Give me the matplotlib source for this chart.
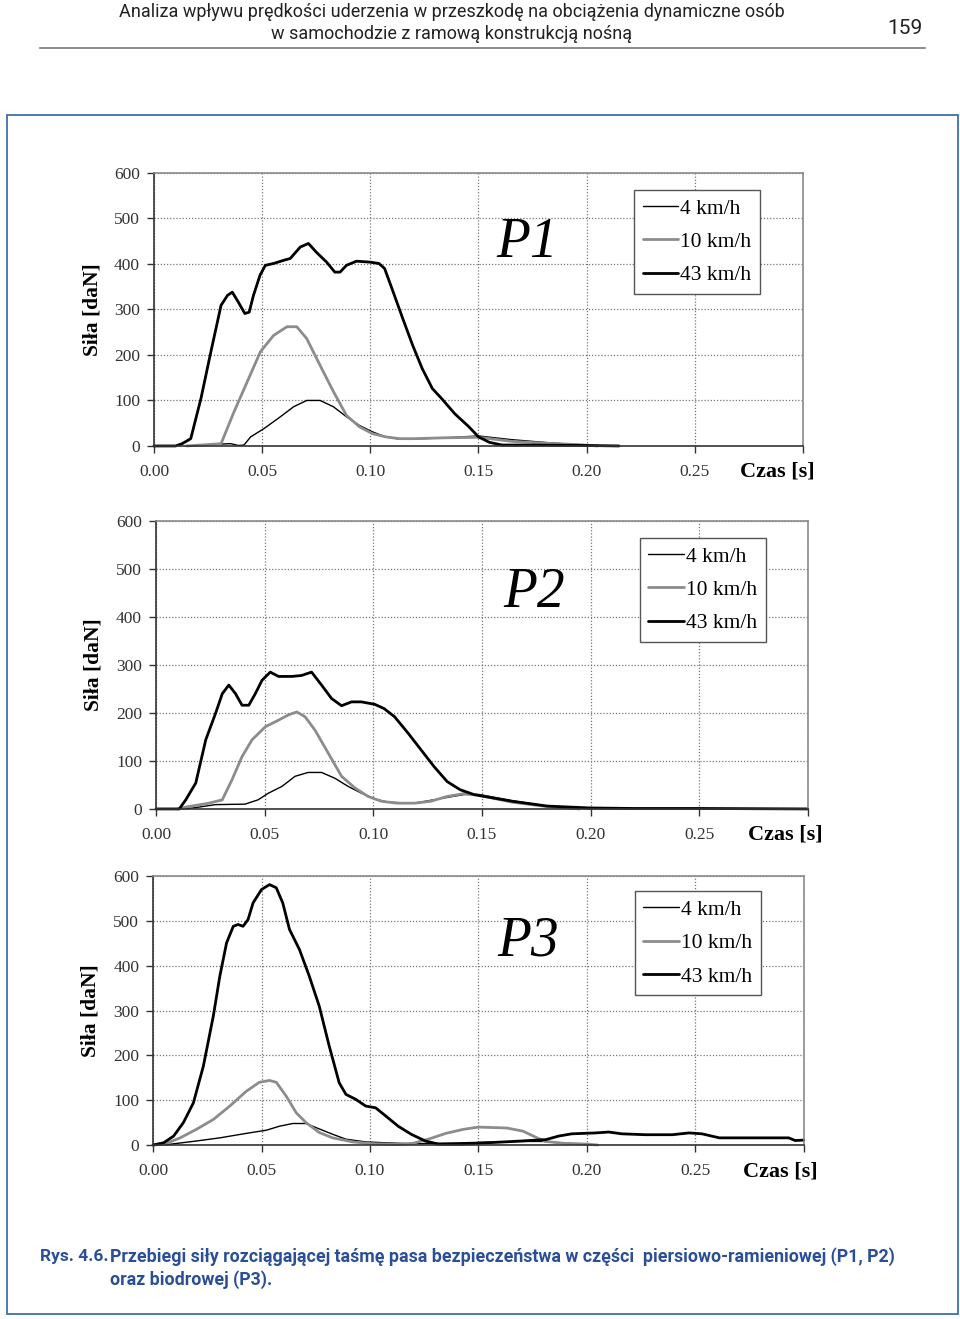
import matplotlib
matplotlib.use("Agg")
import matplotlib.pyplot as plt
from matplotlib.patches import Rectangle
from matplotlib.lines import Line2D

# ---- data (time [s], force [daN]) ----
labels = ["4 km/h", "10 km/h", "43 km/h"]
xticks = [0.00, 0.05, 0.10, 0.15, 0.20, 0.25, 0.30]
xticklabels = ["0.00", "0.05", "0.10", "0.15", "0.20", "0.25", ""]
yticks = [0, 100, 200, 300, 400, 500, 600]

# P1
p1_t4 = [0.017, 0.025, 0.0355, 0.039, 0.0416, 0.0447, 0.0508, 0.0584, 0.0645, 0.0706,
         0.0768, 0.083, 0.089, 0.095, 0.101, 0.107, 0.1135, 0.1196, 0.135, 0.150,
         0.165, 0.18, 0.195, 0.20]
p1_f4 = [0, 3, 5, 1, 2, 20, 38, 64, 86, 100, 100, 86, 64, 45, 31, 20, 15, 15, 18, 22,
         14, 8, 3, 0]
p1_t10 = [0.015, 0.025, 0.031, 0.037, 0.0431, 0.0492, 0.0553, 0.0615, 0.066, 0.0706,
          0.0768, 0.083, 0.089, 0.095, 0.101, 0.107, 0.1135, 0.1196, 0.135, 0.150,
          0.1656, 0.181, 0.196, 0.205]
p1_f10 = [0, 3, 5, 75, 141, 207, 243, 262, 262, 236, 177, 119, 67, 42, 27, 20, 16, 16,
          18, 19, 10, 6, 3, 0]
p1_t43 = [0, 0.010, 0.013, 0.017, 0.0217, 0.0263, 0.031, 0.034, 0.0362, 0.039, 0.042,
          0.044, 0.046, 0.049, 0.0515, 0.0553, 0.060, 0.063, 0.0676, 0.0714, 0.075,
          0.0798, 0.0836, 0.086, 0.089, 0.0936, 0.0997, 0.104, 0.1066, 0.110, 0.115,
          0.1196, 0.124, 0.1287, 0.133, 0.139, 0.1456, 0.150, 0.155, 0.161, 0.17,
          0.20, 0.215]
p1_f43 = [0, 0, 5, 16, 104, 207, 309, 331, 338, 316, 291, 294, 331, 375, 397, 401, 408,
          412, 437, 445, 426, 404, 382, 382, 397, 406, 404, 401, 390, 346, 280, 221,
          170, 126, 104, 71, 42, 20, 8, 2, 2, 1, 0]

# P2
p2_t4 = [0.012, 0.017, 0.0274, 0.041, 0.047, 0.0518, 0.058, 0.064, 0.070, 0.0762,
         0.0823, 0.0884, 0.0945, 0.1006, 0.1067, 0.119, 0.134, 0.1418, 0.149, 0.164,
         0.18, 0.20]
p2_f4 = [0, 2, 9, 10, 19, 33, 47, 68, 76, 76, 64, 47, 33, 21, 14, 12, 24, 30, 30, 17,
         6, 0]
p2_t10 = [0.010, 0.015, 0.0244, 0.0305, 0.035, 0.0396, 0.0442, 0.0503, 0.0564, 0.061,
          0.0648, 0.0686, 0.0732, 0.0793, 0.0854, 0.0915, 0.0976, 0.1037, 0.111, 0.119,
          0.1265, 0.134, 0.1418, 0.149, 0.164, 0.18, 0.195]
p2_f10 = [0, 5, 12, 19, 61, 109, 144, 171, 185, 196, 202, 192, 164, 116, 68, 44, 26, 16,
          12, 12, 16, 26, 32, 28, 14, 5, 0]
p2_t43 = [0, 0.0107, 0.0137, 0.0183, 0.0229, 0.0274, 0.0305, 0.0335, 0.0366, 0.0396,
          0.0427, 0.0457, 0.0488, 0.0526, 0.0564, 0.0625, 0.067, 0.0716, 0.0762, 0.0808,
          0.0854, 0.09, 0.0945, 0.1006, 0.105, 0.1098, 0.116, 0.122, 0.128, 0.134,
          0.140, 0.1463, 0.150, 0.164, 0.18, 0.20, 0.22, 0.25, 0.30]
p2_f43 = [0, 0, 19, 54, 144, 199, 240, 258, 240, 216, 216, 240, 268, 285, 276, 276, 278,
          285, 258, 230, 215, 223, 223, 218, 209, 192, 158, 123, 88, 57, 40, 30, 27, 16,
          6, 2, 1, 1, 0]

# P3
p3_t4 = [0.005, 0.02, 0.0308, 0.043, 0.0522, 0.0583, 0.0644, 0.0705, 0.0766, 0.0828,
         0.0889, 0.098, 0.107, 0.119, 0.1347, 0.150, 0.17, 0.18, 0.19, 0.20, 0.205]
p3_f4 = [0, 9, 16, 26, 33, 42, 48, 48, 36, 24, 13, 7, 5, 3, 4, 6, 8, 8, 4, 1, 0]
p3_t10 = [0, 0.005, 0.0125, 0.02, 0.0278, 0.0354, 0.043, 0.049, 0.0537, 0.0568, 0.0614,
          0.066, 0.0705, 0.0766, 0.0828, 0.092, 0.101, 0.113, 0.12, 0.1275, 0.135,
          0.143, 0.150, 0.163, 0.1705, 0.177, 0.181, 0.189, 0.2, 0.205]
p3_f10 = [0, 1.5, 16, 35, 57, 87, 120, 140, 144, 140, 109, 72, 50, 28, 16, 7, 3, 1.5, 4,
          14, 26, 35, 40, 38, 31, 16, 8, 4, 2, 0]
p3_t43 = [0, 0.0049, 0.0095, 0.014, 0.0186, 0.0232, 0.0278, 0.0308, 0.0339, 0.037,
          0.0392, 0.0415, 0.0438, 0.0461, 0.05, 0.0537, 0.0568, 0.0598, 0.0629, 0.0675,
          0.072, 0.0766, 0.0812, 0.0858, 0.0889, 0.0934, 0.098, 0.1026, 0.1072, 0.113,
          0.119, 0.1255, 0.1316, 0.142, 0.150, 0.166, 0.1735, 0.181, 0.187, 0.193,
          0.204, 0.21, 0.216, 0.227, 0.2394, 0.247, 0.253, 0.261, 0.2735, 0.293, 0.296,
          0.30]
p3_f43 = [0, 5, 20, 50, 94, 176, 288, 377, 451, 488, 492, 488, 503, 540, 570, 581, 574,
          540, 481, 436, 377, 310, 221, 139, 113, 102, 87, 83, 65, 42, 24, 9, 2, 2, 4, 8,
          10, 12, 20, 25, 27, 29, 25, 23, 23, 27, 25, 16, 16, 16, 10, 11]

panels = [
    ("P1", [(p1_t4, p1_f4), (p1_t10, p1_f10), (p1_t43, p1_f43)]),
    ("P2", [(p2_t4, p2_f4), (p2_t10, p2_f10), (p2_t43, p2_f43)]),
    ("P3", [(p3_t4, p3_f4), (p3_t10, p3_f10), (p3_t43, p3_f43)]),
]

# axes placement [left, bottom, width, height] in figure fraction
boxes = [
    [0.1604, 0.6619, 0.676, 0.2070],
    [0.1625, 0.3867, 0.679, 0.2184],
    [0.1594, 0.1319, 0.678, 0.2039],
]
legend_pos = [(0.7396, 0.938), (0.742, 0.941), (0.740, 0.944)]
tag_pos = [(0.575, 0.744), (0.58, 0.75), (0.576, 0.755)]
czas_pos = [(0.961, -0.095), (0.966, -0.087), (0.963, -0.10)]

styles = [
    dict(color="black", lw=1.0),
    dict(color="#8c8c8c", lw=2.0),
    dict(color="black", lw=2.0),
]
serif = "Liberation Serif"

fig = plt.figure(figsize=(9.6, 13.19), dpi=100)

# page header
fig.text(452 / 960, 1 - 12 / 1319,
         "Analiza wpływu prędkości uderzenia w przeszkodę na obciążenia dynamiczne osób",
         ha="center", va="center", fontsize=13, family="Roboto", color="#222222")
fig.text(452 / 960, 1 - 34 / 1319, "w samochodzie z ramową konstrukcją nośną",
         ha="center", va="center", fontsize=13, family="Roboto", color="#222222")
fig.text(905 / 960, 1 - 28 / 1319, "159", ha="center", va="center",
         fontsize=15, family="Roboto", color="#222222")
fig.add_artist(Line2D([40 / 960, 925 / 960], [1 - 48 / 1319, 1 - 48 / 1319],
                      color="#777777", lw=1.2))

# blue frame around the figure
fig.add_artist(Rectangle((7 / 960, 1 - 1314 / 1319), 951 / 960, 1199 / 1319,
                         fill=False, edgecolor="#3f6fa8", lw=1.3))

for (tag, series), box, lp, tp, cp in zip(panels, boxes, legend_pos, tag_pos, czas_pos):
    ax = fig.add_axes(box)
    for (t, f), st, lab in zip(series, styles, labels):
        ax.plot(t, f, label=lab, solid_joinstyle="round", solid_capstyle="round",
                clip_on=False, **st)
    ax.set_xlim(0, 0.30)
    ax.set_ylim(0, 600)
    ax.set_xticks(xticks)
    ax.set_xticklabels(xticklabels)
    ax.set_yticks(yticks)
    ax.set_axisbelow(True)
    ax.grid(True, linestyle=(0, (1, 1.5)), color="#777777", lw=0.9)
    for side in ["top", "right"]:
        ax.spines[side].set_color("#8a8a8a")
        ax.spines[side].set_linewidth(1.2)
    for side in ["left", "bottom"]:
        ax.spines[side].set_color("#333333")
        ax.spines[side].set_linewidth(1.2)
    ax.tick_params(axis="both", direction="out", length=5, width=1, color="#333333",
                   labelsize=12.5, labelcolor="#333333")
    ax.tick_params(axis="x", pad=8)
    ax.tick_params(axis="y", pad=5)
    for lab in ax.get_xticklabels() + ax.get_yticklabels():
        lab.set_family(serif)

    ax.text(-0.0955, 0.5, "Siła [daN]", transform=ax.transAxes, rotation=90,
            ha="center", va="center", fontsize=15.5, fontweight="bold", family=serif)
    ax.text(cp[0], cp[1], "Czas [s]", transform=ax.transAxes, ha="center", va="center",
            fontsize=16, fontweight="bold", family=serif)
    ax.text(tp[0], tp[1], tag, transform=ax.transAxes, ha="center", va="center",
            fontsize=40, fontstyle="italic", family=serif)

    leg = ax.legend(loc="upper left", bbox_to_anchor=lp, frameon=True, fancybox=False,
                    framealpha=1, edgecolor="#555555", borderpad=0.4,
                    handlelength=1.65, handletextpad=0.1, labelspacing=0.62,
                    prop={"family": serif, "size": 15.5}, borderaxespad=0)
    leg.get_frame().set_linewidth(1.0)

# caption
cap_color = "#2a4f96"
cap_font = "Roboto"
fig.text(40 / 960, 1 - 1257 / 1319, "Rys. 4.6.", ha="left", va="center",
         fontsize=12.5, fontweight="bold", family=cap_font, color=cap_color)
fig.text(110 / 960, 1 - 1257 / 1319,
         "Przebiegi siły rozciągającej taśmę pasa bezpieczeństwa w części  "
         "piersiowo-ramieniowej (P1, P2)",
         ha="left", va="center", fontsize=12.8, fontweight="bold", family=cap_font,
         color=cap_color)
fig.text(110 / 960, 1 - 1280 / 1319, "oraz biodrowej (P3).", ha="left", va="center",
         fontsize=12.8, fontweight="bold", family=cap_font, color=cap_color)

fig.savefig("out.png", dpi=100, facecolor="white")
